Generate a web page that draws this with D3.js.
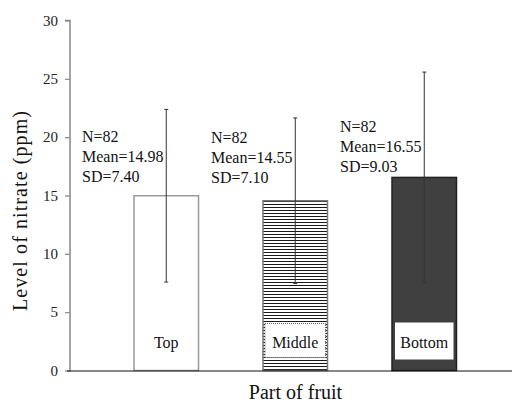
<!DOCTYPE html>
<html>
<head>
<meta charset="utf-8">
<script src="https://cdn.jsdelivr.net/npm/d3@7"></script>
<style>
  html, body { margin: 0; padding: 0; background: #fff; }
</style>
</head>
<body>
<svg id="chart" width="512" height="402"></svg>
<script>
// Nitrate level by part of fruit
const categories = ["Top", "Middle", "Bottom"];
const means = [14.98, 14.55, 16.55];
const sds = [7.40, 7.10, 9.03];
const counts = [82, 82, 82];
const yTicks = [0, 5, 10, 15, 20, 25, 30];

const SERIF = "'Liberation Serif', 'Times New Roman', serif";
const svg = d3.select("#chart");
const x = d3.scaleBand().domain(categories).range([101.75, 488.75])
  .paddingInner(0.5).paddingOuter(0.25);
const y = d3.scaleLinear().domain([0, 30]).range([370.5, 20.5]);

// stripe pattern for the middle bar
const defs = svg.append("defs");
const pat = defs.append("pattern").attr("id", "stripes")
  .attr("patternUnits", "userSpaceOnUse").attr("width", 8).attr("height", 3)
  .attr("x", 0).attr("y", 0);
pat.append("rect").attr("width", 8).attr("height", 3).attr("fill", "#fff");
pat.append("rect").attr("x", 0).attr("y", 0).attr("width", 8).attr("height", 1)
  .attr("fill", "#1a1a1a");

const fills = ["#ffffff", "url(#stripes)", "#404040"];
const strokes = ["#999", "#777", "#222"];

// bars
svg.selectAll("rect.bar").data(categories).join("rect")
  .attr("class", "bar")
  .attr("x", d => x(d))
  .attr("y", (d, i) => y(means[i]))
  .attr("width", x.bandwidth())
  .attr("height", (d, i) => y(0) - y(means[i]))
  .attr("fill", (d, i) => fills[i])
  .attr("stroke", (d, i) => strokes[i])
  .attr("stroke-width", 1.5);

// label boxes inside middle and bottom bars
svg.append("rect")
  .attr("x", x("Middle") + 2).attr("y", y(0) - 47)
  .attr("width", x.bandwidth() - 4).attr("height", 34)
  .attr("fill", "#fff").attr("stroke", "#666").attr("stroke-width", 1)
  .attr("stroke-dasharray", "1,1");
svg.append("rect")
  .attr("x", x("Bottom") + 3).attr("y", y(0) - 48)
  .attr("width", x.bandwidth() - 6).attr("height", 37)
  .attr("fill", "#fff");

// category labels
svg.selectAll("text.cat").data(categories).join("text")
  .attr("class", "cat")
  .attr("x", d => x(d) + x.bandwidth() / 2)
  .attr("y", 348)
  .attr("text-anchor", "middle")
  .style("font-family", SERIF)
  .style("font-size", "16px")
  .attr("fill", "#111")
  .text(d => d);

// error bars
const eb = svg.append("g").attr("stroke", "#333").attr("stroke-width", 1);
categories.forEach((c, i) => {
  const cx = x(c) + x.bandwidth() / 2;
  eb.append("line").attr("x1", cx).attr("x2", cx)
    .attr("y1", y(means[i] + sds[i])).attr("y2", y(means[i] - sds[i]));
  [means[i] + sds[i], means[i] - sds[i]].forEach(v => {
    eb.append("line").attr("x1", cx - 2).attr("x2", cx + 2)
      .attr("y1", y(v)).attr("y2", y(v));
  });
});

// summary annotations
const annBase = [141.7, 143.3, 132.3];
categories.forEach((c, i) => {
  const lines = ["N=" + counts[i], "Mean=" + means[i].toFixed(2), "SD=" + sds[i].toFixed(2)];
  const t = svg.append("text")
    .attr("x", x(c) - 52).attr("y", annBase[i])
    .style("font-family", SERIF).style("font-size", "16px")
    .attr("fill", "#111");
  lines.forEach((l, k) => {
    t.append("tspan").attr("x", x(c) - 52).attr("dy", k === 0 ? 0 : 20).text(l);
  });
});

// y axis
const yAxis = d3.axisLeft(y).tickValues(yTicks).tickSize(5).tickPadding(7);
const gy = svg.append("g").attr("transform", "translate(70,0)").call(yAxis);
gy.select(".domain").attr("stroke", "#888").attr("stroke-width", 1.5).attr("d", `M-5,${y(30)}H0V${y(0)+1}`);
gy.selectAll(".tick line").attr("stroke", "#888").attr("stroke-width", 1.2);
gy.selectAll(".tick text")
  .style("font-family", SERIF).style("font-size", "15px")
  .attr("fill", "#222");

// x axis baseline
svg.append("line").attr("x1", 67).attr("x2", 512)
  .attr("y1", y(0) + 0.5).attr("y2", y(0) + 0.5)
  .attr("stroke", "#111").attr("stroke-width", 1.2);

// axis titles
svg.append("text")
  .attr("transform", "translate(27,211) rotate(-90)")
  .attr("text-anchor", "middle")
  .attr("textLength", 200).attr("lengthAdjust", "spacing")
  .style("font-family", SERIF).style("font-size", "20px")
  .attr("fill", "#111")
  .text("Level of nitrate (ppm)");
svg.append("text")
  .attr("x", 295.5).attr("y", 399)
  .attr("text-anchor", "middle")
  .style("font-family", SERIF).style("font-size", "20px")
  .attr("fill", "#111")
  .text("Part of fruit");
</script>
</body>
</html>
